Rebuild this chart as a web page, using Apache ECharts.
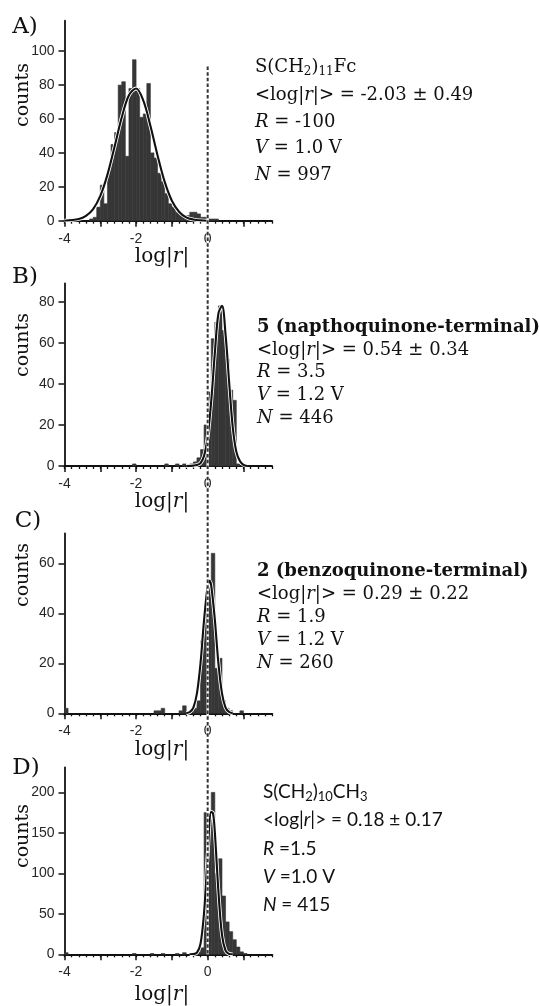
<!DOCTYPE html>
<html>
<head>
<meta charset="utf-8">
<script src="https://cdn.jsdelivr.net/npm/echarts@6/dist/echarts.min.js"></script>
<style>
html, body { margin: 0; padding: 0; background: #fff; }
#chart { width: 539px; height: 1006px; }
</style>
</head>
<body>
<div id="chart"></div>
<script>
// ---- data ----
// histogram: bin centres (0.1 wide bins) and counts
const binsA = [-3.25, -3.15, -3.05, -2.95, -2.85, -2.75, -2.65, -2.55, -2.45, -2.35, -2.25, -2.15, -2.05, -1.95, -1.85, -1.75, -1.65, -1.55, -1.45, -1.35, -1.25, -1.15, -1.05, -0.95, -0.85, -0.75, -0.65, -0.55, -0.45, -0.35, -0.25, -0.15, -0.05, 0.05, 0.15, 0.25];
const countsA = [1, 2, 8, 21, 10, 30, 45, 52, 80, 82, 38, 78, 95, 78, 61, 63, 81, 40, 37, 28, 23, 16, 10, 8, 5, 4, 3, 3, 5, 5, 4, 2, 2, 1, 1, 1];

const binsB = [-2.05, -1.15, -0.85, -0.65, -0.45, -0.35, -0.25, -0.15, -0.05, 0.05, 0.15, 0.25, 0.35, 0.45, 0.55, 0.65, 0.75, 0.85];
const countsB = [1, 1, 1, 1, 1, 2, 4, 8, 20, 36, 62, 70, 78, 66, 52, 37, 32, 1];

const binsC = [-3.95, -1.45, -1.35, -1.25, -0.75, -0.65, -0.45, -0.35, -0.25, -0.15, -0.05, 0.05, 0.15, 0.25, 0.35, 0.45, 0.55, 0.65, 0.95];
const countsC = [2, 1, 1, 2, 1, 3, 1, 2, 5, 29, 41, 53, 64, 18, 22, 5, 2, 1, 1];

const binsD = [-3.95, -2.05, -1.55, -1.25, -0.85, -0.65, -0.45, -0.35, -0.25, -0.15, -0.05, 0.05, 0.15, 0.25, 0.35, 0.45, 0.55, 0.65, 0.75, 0.85, 0.95, 1.05];
const countsD = [2, 1, 1, 1, 1, 2, 1, 2, 3, 8, 175, 170, 200, 100, 118, 72, 40, 28, 18, 9, 3, 1];

// gaussian fit curves
const fitXA = [-4.0, -3.6, -3.4, -3.2, -3.0, -2.8, -2.6, -2.4, -2.2, -2.0, -1.8, -1.6, -1.4, -1.2, -1.0, -0.8, -0.6, -0.4, -0.2, 0.0];
const fitYA = [0, 1.0, 2.8, 6.8, 14.6, 27.2, 43.8, 61, 74, 78, 71, 56, 38.5, 22.9, 11.8, 5.3, 2.0, 0.7, 0.2, 0];

const fitXB = [-0.6, -0.4, -0.3, -0.2, -0.1, 0.0, 0.1, 0.2, 0.3, 0.4, 0.5, 0.6, 0.7, 0.8, 0.9, 1.0, 1.1];
const fitYB = [0, 0.2, 0.5, 1.4, 5, 14.3, 31.8, 55, 74.3, 78, 64, 40.8, 19, 7, 2.4, 0.6, 0];

const fitXC = [-0.6, -0.5, -0.4, -0.3, -0.2, -0.1, 0.0, 0.05, 0.1, 0.2, 0.3, 0.4, 0.5, 0.6, 0.7];
const fitYC = [0, 0.5, 2.3, 8, 20, 37.5, 51, 53, 51, 37.5, 20, 8, 2.3, 0.5, 0];

const fitXD = [-0.5, -0.4, -0.3, -0.2, -0.1, 0.0, 0.1, 0.15, 0.2, 0.3, 0.4, 0.5, 0.6, 0.7];
const fitYD = [0, 0.2, 2, 13, 52, 123, 176, 174, 151, 78, 24, 4.5, 0.5, 0];

// axes
const xMinorStep = 0.2;
const xMajorTicks = [-4, -3, -2, -1, 0, 1];
const xTickLabels = [-4, -2, 0];
const yTicksA = [0, 20, 40, 60, 80, 100];
const yTicksB = [0, 20, 40, 60, 80];
const yTicksC = [0, 20, 40, 60];
const yTicksD = [0, 50, 100, 150, 200];
const binWidth = 0.1;

// annotation text
const letters = ['A)', 'B)', 'C)', 'D)'];
const infoA = ['S(CH{sub|2}){sub|11}Fc', '<log|{i|r}|> = -2.03 ± 0.49', '{i|R} = -100', '{i|V} = 1.0 V', '{i|N} = 997'];
const infoB = ['{b|5 (napthoquinone-terminal)}', '<log|{i|r}|> = 0.54 ± 0.34', '{i|R} = 3.5', '{i|V} = 1.2 V', '{i|N} = 446'];
const infoC = ['{b|2 (benzoquinone-terminal)}', '<log|{i|r}|> = 0.29 ± 0.22', '{i|R} = 1.9', '{i|V} = 1.2 V', '{i|N} = 260'];
const infoD = ['S(CH{sub|2}){sub|10}CH{sub|3}', '<log|{i|r}|> = 0.18 ± 0.17', '{i|R} =1.5', '{i|V} =1.0 V', '{i|N} = 415'];

// ---- layout ----
const gridLeft = 64.5;
const gridWidth = 207.6;
const panels = [
    { top: 20.7, height: 200, yMax: 118, bins: binsA, counts: countsA, fx: fitXA, fy: fitYA, yTicks: yTicksA,
      info: infoA, infoX: 255, infoY: [67, 95, 122, 148, 175], sans: false,
      letterXY: [25, 27], countsY: 95, xnameY: 257 },
    { top: 283.3, height: 182.7, yMax: 89, bins: binsB, counts: countsB, fx: fitXB, fy: fitYB, yTicks: yTicksB,
      info: infoB, infoX: 257, infoY: [327, 350, 372, 395, 418], sans: false,
      letterXY: [25, 277], countsY: 345, xnameY: 502 },
    { top: 533.3, height: 180, yMax: 72, bins: binsC, counts: countsC, fx: fitXC, fy: fitYC, yTicks: yTicksC,
      info: infoC, infoX: 257, infoY: [571, 594, 617, 640, 663], sans: false,
      letterXY: [28, 521], countsY: 575, xnameY: 750 },
    { top: 767.3, height: 187, yMax: 231, bins: binsD, counts: countsD, fx: fitXD, fy: fitYD, yTicks: yTicksD,
      info: infoD, infoX: 263, infoY: [792, 820, 849, 877, 905], sans: true,
      letterXY: [26, 768], countsY: 836, xnameY: 995 }
];
const dashTopValueA = 91;   // dashed x=0 line starts here on panel A's y scale

const ink = '#111';
const barColor = '#363636';
const tickFont = { fontFamily: 'Liberation Sans', fontSize: 14, color: '#262626' };

const chart = echarts.init(document.getElementById('chart'));

const grids = [], xAxes = [], yAxes = [], series = [];
panels.forEach((p, k) => {
    grids.push({ left: gridLeft, top: p.top, width: gridWidth, height: p.height, outerBoundsMode: 'none' });
    // main x axis: line, minor ticks, labels
    xAxes.push({
        type: 'value', gridIndex: k, position: 'bottom', min: -4, max: 1.8, interval: xMinorStep,
        axisLine: { show: true, onZero: false, lineStyle: { color: ink, width: 1.8 } },
        axisTick: { show: true, length: 3, lineStyle: { color: ink, width: 1.3 } },
        axisLabel: { show: true, customValues: xTickLabels, margin: 11, ...tickFont },
        splitLine: { show: false }
    });
    // second x axis only for the longer integer ticks
    xAxes.push({
        type: 'value', gridIndex: k, position: 'bottom', offset: 0, min: -4, max: 1.8,
        axisLine: { show: false, onZero: false },
        axisTick: { show: true, length: 6, customValues: xMajorTicks, lineStyle: { color: ink, width: 1.5 } },
        axisLabel: { show: false },
        splitLine: { show: false }
    });
    yAxes.push({
        type: 'value', gridIndex: k, position: 'left', min: 0, max: p.yMax,
        axisLine: { show: true, onZero: false, lineStyle: { color: ink, width: 1.8 } },
        axisTick: { show: true, length: 6, customValues: p.yTicks, lineStyle: { color: ink, width: 1.5 } },
        axisLabel: { show: true, customValues: p.yTicks, margin: 10, ...tickFont },
        splitLine: { show: false }
    });
    series.push({
        type: 'custom', xAxisIndex: 2 * k, yAxisIndex: k,
        data: p.bins.map((b, i) => [b, p.counts[i]]),
        renderItem: (params, api) => {
            const c = api.value(0), v = api.value(1);
            const p0 = api.coord([c - binWidth / 2, v]);
            const p1 = api.coord([c + binWidth / 2, 0]);
            return {
                type: 'rect',
                shape: { x: p0[0], y: p0[1], width: p1[0] - p0[0], height: p1[1] - p0[1] },
                style: { fill: barColor, stroke: barColor, lineWidth: 0.6 }
            };
        },
        z: 1
    });
    const fitData = p.fx.map((x, i) => [x, p.fy[i]]);
    series.push({
        type: 'line', xAxisIndex: 2 * k, yAxisIndex: k, data: fitData,
        smooth: 0.35, symbol: 'none', silent: true,
        lineStyle: { color: '#fff', width: 3.8 }, z: 2
    });
    series.push({
        type: 'line', xAxisIndex: 2 * k, yAxisIndex: k, data: fitData,
        smooth: 0.35, symbol: 'none', silent: true,
        lineStyle: { color: ink, width: 2.1 }, z: 3
    });
});

chart.setOption({
    animation: false,
    backgroundColor: '#fff',
    grid: grids,
    xAxis: xAxes,
    yAxis: yAxes,
    series: series
});

// ---- annotations ----
const serif = 'DejaVu Serif';
const sans = 'Lato';
function richFor(family, size) {
    return {
        i: { fontFamily: family, fontSize: size, fontStyle: 'italic', fill: ink },
        b: { fontFamily: family, fontSize: size, fontWeight: 'bold', fill: ink },
        sub: { fontFamily: family, fontSize: Math.round(size * 0.68), fill: ink, lineHeight: 10, verticalAlign: 'bottom' }
    };
}

const graphics = [];
panels.forEach((p, k) => {
    graphics.push({
        type: 'text', x: p.letterXY[0], y: p.letterXY[1],
        style: { text: letters[k], fontFamily: serif, fontSize: 23, fill: ink, align: 'center', verticalAlign: 'middle' }
    });
    graphics.push({
        type: 'text', x: 23, y: p.countsY, rotation: Math.PI / 2,
        style: { text: 'counts', fontFamily: serif, fontSize: 19, fill: ink, align: 'center', verticalAlign: 'middle' }
    });
    graphics.push({
        type: 'text', x: 162, y: p.xnameY,
        style: { text: 'log|{i|r}|', fontFamily: serif, fontSize: 20, fill: ink, align: 'center', verticalAlign: 'middle',
                 rich: richFor(serif, 20) }
    });
    const fam = p.sans ? sans : serif;
    const size = p.sans ? 19 : 18;
    p.info.forEach((line, j) => {
        graphics.push({
            type: 'text', x: p.infoX, y: p.infoY[j],
            style: { text: line, fontFamily: fam, fontSize: size, fill: ink, align: 'left', verticalAlign: 'middle',
                     lineHeight: 22, rich: richFor(fam, size) }
        });
    });
});

// long dashed line at log|r| = 0 running through all four panels
const topPt = chart.convertToPixel({ xAxisIndex: 0, yAxisIndex: 0 }, [0, dashTopValueA]);
const botPt = chart.convertToPixel({ xAxisIndex: 6, yAxisIndex: 3 }, [0, 0]);
graphics.push({
    type: 'line', z: 50,
    shape: { x1: topPt[0], y1: topPt[1], x2: botPt[0], y2: botPt[1] },
    style: { stroke: '#fff', lineWidth: 2.4 }
});
graphics.push({
    type: 'line', z: 51,
    shape: { x1: topPt[0], y1: topPt[1], x2: botPt[0], y2: botPt[1] },
    style: { stroke: '#333', lineWidth: 2, lineDash: [3.5, 2.2] }
});

chart.setOption({ graphic: graphics });
</script>
</body>
</html>
